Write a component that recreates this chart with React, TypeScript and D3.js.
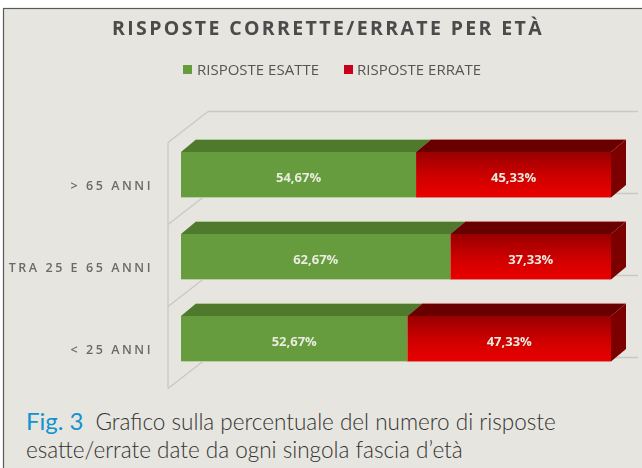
import React from "react";
import * as d3 from "d3";

const categories = ["> 65 ANNI", "TRA 25 E 65 ANNI", "< 25 ANNI"];
const esatte = [54.67, 62.67, 52.67];
const errate = [45.33, 37.33, 47.33];
const seriesNames = ["RISPOSTE ESATTE", "RISPOSTE ERRATE"];

const W = 642;
const H = 468;
const depthX = 15;
const depthY = 12.5;

const x = d3.scaleLinear().domain([0, 100]).range([181, 611]);
const y = d3
  .scaleBand()
  .domain(categories)
  .range([133.75, 379.75])
  .paddingInner(0.445)
  .paddingOuter(0.2225);

const rows = categories.map((c, i) => ({ cat: c, esatte: esatte[i], errate: errate[i] }));
const stacked = d3.stack<any>().keys(["esatte", "errate"])(rows);

const colors = [
  { top: "#4f7a2d", front: "#669c3d", side: "#4f7a2d", edge: "#b9cf9f" },
  { top: "#680000", front: "url(#redFront)", side: "#7c0000", edge: "#d98080" },
];

const fmt = (v: number) => v.toFixed(2).replace(".", ",") + "%";
const poly = (pts: number[][]) => pts.map((p) => p.join(",")).join(" ");

const App = () => {
  const step = y.step();
  const firstTop = y(categories[0])!;
  const bw = y.bandwidth();
  // wall lines, one for each band edge
  const wallFront = d3.range(categories.length + 1).map((i) => firstTop + bw + 27 + (i - 1) * step);

  return (
    <svg
      width={W}
      height={H}
      style={{ position: "absolute", left: 0, top: 0, display: "block" }}
      fontFamily="'Open Sans', sans-serif"
    >
      <defs>
        <linearGradient id="redFront" x1="0" y1="0" x2="0" y2="1">
          <stop offset="0" stopColor="#980000" />
          <stop offset="0.55" stopColor="#d00000" />
          <stop offset="1" stopColor="#ea0000" />
        </linearGradient>
        <filter id="soft" x="-5%" y="-5%" width="110%" height="110%">
          <feGaussianBlur stdDeviation="0.6" />
        </filter>
      </defs>

      <rect x={0} y={0} width={W} height={H} fill="#ffffff" />
      <rect x={3.5} y={8.5} width={W + 10} height={H + 10} fill="#e6e5df" stroke="#5a5a5a" strokeWidth={1.2} />

      <g filter="url(#soft)">
        <text
          x={328}
          y={35}
          textAnchor="middle"
          fontSize={19.5}
          fontWeight={700}
          letterSpacing={2.37}
          fill="#4b4b4b"
        >
          RISPOSTE CORRETTE/ERRATE PER ETÀ
        </text>

        {/* legend */}
        <rect x={183} y={65} width={9} height={9} fill={colors[0].front} />
        <text x={197} y={74.5} fontSize={15} letterSpacing={0} fill="#555">
          {seriesNames[0]}
        </text>
        <rect x={344} y={65} width={9} height={9} fill="#c8001a" />
        <text x={357} y={74.5} fontSize={15} letterSpacing={0} fill="#555">
          {seriesNames[1]}
        </text>

        {/* 3d walls */}
        <g stroke="#c9c8c2" strokeWidth={1.3} fill="none">
          <line x1={168} x2={168} y1={wallFront[0]} y2={wallFront[3]} />
          {wallFront.map((yy) => (
            <g key={yy}>
              <line x1={168} y1={yy} x2={208} y2={yy - 31} />
              <line x1={208} y1={yy - 31} x2={638} y2={yy - 31} />
            </g>
          ))}
        </g>

        {/* category labels */}
        {categories.map((c) => (
          <text
            key={c}
            x={153}
            y={y(c)! + bw / 2 + 15}
            textAnchor="end"
            fontSize={12.5}
            fontWeight={600}
            letterSpacing={2.55}
            fill="#6a6a6a"
          >
            {c}
          </text>
        ))}

        {/* stacked bars */}
        {stacked.map((s, si) => (
          <g key={s.key}>
            {s.map((d: any) => {
              const yTop = y(d.data.cat)!;
              const x0 = x(d[0]);
              const x1 = x(d[1]);
              const c = colors[si];
              return (
                <g key={d.data.cat}>
                  <polygon
                    points={poly([
                      [x0, yTop],
                      [x0 + depthX, yTop - depthY],
                      [x1 + depthX, yTop - depthY],
                      [x1, yTop],
                    ])}
                    fill={c.top}
                  />
                  {si === 1 && (
                    <polygon
                      points={poly([
                        [x1, yTop],
                        [x1 + depthX, yTop - depthY],
                        [x1 + depthX, yTop + bw - depthY],
                        [x1, yTop + bw],
                      ])}
                      fill={c.side}
                    />
                  )}
                  <rect x={x0} y={yTop} width={x1 - x0} height={bw} fill={c.front} />
                  <line x1={x0} x2={x1} y1={yTop + bw} y2={yTop + bw} stroke={c.edge} strokeWidth={1} />
                  <line
                    x1={x0 + depthX}
                    x2={x1 + depthX}
                    y1={yTop - depthY}
                    y2={yTop - depthY}
                    stroke={c.edge}
                    strokeWidth={0.8}
                  />
                  <text
                    x={(x0 + x1) / 2}
                    y={yTop + bw / 2 + 7}
                    textAnchor="middle"
                    fontSize={13}
                    fontWeight={700}
                    fill="#e9ecdf"
                  >
                    {fmt(d[1] - d[0])}
                  </text>
                </g>
              );
            })}
          </g>
        ))}
      </g>

      {/* caption */}
      <text x={26} y={430} fontFamily="Lato, sans-serif" fontSize={22.5} fontWeight={300} fill="#333">
        <tspan fontSize={24} fontWeight={400} fill="#1193cf">
          Fig. 3
        </tspan>
        <tspan dx={12}>Grafico sulla percentuale del numero di risposte</tspan>
      </text>
      <text x={26} y={458} fontFamily="Lato, sans-serif" fontSize={22.5} fontWeight={300} fill="#333">
        esatte/errate date da ogni singola fascia d’età
      </text>
    </svg>
  );
};

export default App;
